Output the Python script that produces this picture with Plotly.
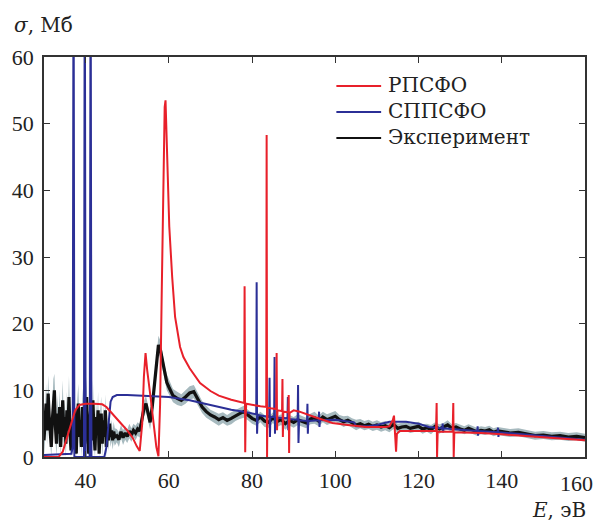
import numpy as np
import plotly.graph_objects as go

# ---------------- data ----------------
exp_x1 = np.arange(30.0, 47.0001, 0.25)   # 69 points
exp_y1 = [2.5, 5.0, 8.0, 4.0, 9.5, 6.0, 3.0, 1.5, 5.5, 8.5,
          10.0, 4.5, 2.0, 6.5, 3.5, 7.5, 1.5, 5.0, 8.5, 3.0,
          6.0, 2.0, 7.0, 4.0, 9.0, 3.5, 1.0, 5.5, 2.5, 7.0,
          4.0, 0.5, 6.0, 8.0, 3.0, 5.5, 1.5, 7.5, 4.5, 2.0,
          6.5, 9.0, 3.0, 0.5, 5.0, 7.5, 2.5, 8.5, 4.0, 1.0,
          6.0, 3.5, 7.0, 0.5, 4.5, 6.5, 2.0, 5.5, 3.0, 7.0,
          1.5, 4.5, 2.5, 5.0, 3.0, 4.0, 2.5, 3.8, 3.0]
exp_e1 = [2.5, 2.0, 3.0, 2.2, 2.8, 2.0, 1.8, 2.4, 2.6, 3.2,
          2.5, 2.0, 2.2, 2.8, 2.4, 2.6, 1.8, 2.2, 3.0, 2.4,
          2.6, 2.0, 2.8, 2.2, 3.2, 2.4, 2.0, 2.6, 2.2, 2.8,
          2.4, 1.8, 2.6, 3.0, 2.2, 2.4, 2.0, 2.8, 2.6, 2.0,
          2.4, 3.0, 2.2, 1.8, 2.6, 2.8, 2.0, 3.0, 2.4, 2.0,
          2.6, 2.2, 2.8, 1.8, 2.4, 2.6, 2.0, 2.2, 1.8, 2.4,
          1.6, 2.0, 1.6, 1.8, 1.5, 1.6, 1.4, 1.5, 1.3]

exp_x2 = np.arange(47.5, 60.0001, 0.5)   # 26 points
exp_y2 = [3.2, 2.6, 3.8, 2.9, 3.6, 3.1, 3.9, 3.3, 4.0, 3.6,
          4.2, 3.9, 5.5, 7.2, 8.0, 6.5, 5.2, 7.5, 11.0, 14.5,
          16.8, 16.0, 14.2, 12.5, 11.2, 10.5]
exp_e2 = [1.0, 1.1, 1.0, 1.1, 1.0, 1.0, 1.1, 1.0, 1.0, 1.1,
          1.0, 1.0, 1.1, 1.2, 1.2, 1.1, 1.1, 1.2, 1.3, 1.4,
          1.4, 1.4, 1.3, 1.2, 1.2, 1.1]

exp_x3 = np.arange(61.0, 140.0001, 1.0)  # 80 points
exp_y3 = [9.2, 8.8, 8.5, 9.0, 9.6, 9.8, 8.6, 7.5, 6.8, 6.3,
          6.0, 5.6, 5.9, 5.5, 5.8, 6.2, 6.5, 6.8, 6.3, 5.8,
          5.5, 6.0, 5.4, 5.2, 5.9, 5.3, 5.6, 5.0, 5.5, 5.2,
          5.6, 5.3, 5.1, 5.7, 5.9, 5.4, 6.0, 5.6, 5.9, 6.1,
          5.6, 5.3, 5.5, 5.1, 4.8, 5.0, 4.7, 4.9, 4.6, 4.8,
          4.5, 4.7, 4.4, 4.9, 4.3, 4.5, 4.6, 4.3, 4.5, 4.6,
          4.2, 4.4, 4.1, 4.6, 4.2, 4.5, 4.8, 4.3, 4.5, 4.2,
          4.0, 4.3, 4.1, 3.8, 4.0, 3.9, 4.1, 3.7, 3.9, 3.8]
exp_e3 = [1.0, 1.0, 0.9, 1.0, 1.0, 1.0, 0.9, 0.9, 0.9, 0.8,
          0.8, 0.9, 0.8, 0.8, 0.9, 0.8, 0.8, 0.9, 0.8, 0.8,
          0.8, 0.8, 0.9, 0.8, 0.8, 0.8, 0.8, 0.9, 0.8, 0.8,
          0.8, 0.8, 0.8, 0.8, 0.9, 0.8, 0.8, 0.8, 0.8, 0.8,
          0.7, 0.8, 0.7, 0.7, 0.8, 0.7, 0.7, 0.7, 0.7, 0.7,
          0.7, 0.7, 0.7, 0.7, 0.7, 0.7, 0.7, 0.7, 0.7, 0.7,
          0.7, 0.6, 0.7, 0.6, 0.7, 0.6, 0.7, 0.6, 0.6, 0.6,
          0.6, 0.6, 0.6, 0.6, 0.6, 0.6, 0.6, 0.6, 0.6, 0.6]

exp_x4 = np.arange(142.0, 160.0001, 2.0)  # 10 points
exp_y4 = [3.6, 3.7, 3.4, 3.2, 3.3, 3.1, 3.2, 3.0, 3.1, 2.9]
exp_e4 = [0.6, 0.6, 0.6, 0.6, 0.6, 0.6, 0.6, 0.6, 0.6, 0.6]

# РПСФО (red)
red_x = [30.0, 33.5, 34.5, 35.5, 36.5, 37.5, 38.5, 40.0, 42.0, 44.0,
         45.0, 46.5, 48.4, 50.0, 51.3, 52.3, 53.0, 53.6, 54.0, 54.4,
         54.8, 55.6, 56.3, 57.0, 57.5, 57.9, 58.3, 58.7, 59.0, 59.2,
         59.6, 60.1, 60.8, 61.5, 62.7, 63.5, 65.0, 67.5, 70.0, 72.0,
         75.0, 78.1, 78.2, 78.35, 78.45, 78.6, 80.0, 82.0, 83.4, 83.5,
         83.6, 83.7, 84.5, 85.8, 85.9, 86.0, 86.1, 87.2, 87.3, 87.4,
         87.5, 88.7, 88.8, 88.9, 89.0, 90.0, 91.4, 95.0, 99.3, 103.0,
         107.4, 112.0, 113.0, 113.8, 114.1, 114.4, 114.6, 114.8, 115.5, 118.0,
         122.0, 124.2, 124.35, 124.45, 124.6, 126.0, 128.2, 128.35, 128.45, 128.6,
         130.0, 135.0, 140.0, 145.0, 150.0, 155.0, 160.0]
red_y = [0.0, 0.0, 0.8, 2.8, 5.0, 7.0, 7.8, 8.0, 8.0, 7.9,
         7.5, 6.5, 5.1, 4.0, 2.9, 1.6, 0.9, 5.0, 12.0, 15.6,
         13.0, 9.0, 5.0, 1.5, 0.1, 8.0, 25.0, 45.0, 52.5, 53.5,
         44.7, 34.6, 27.0, 21.0, 16.5, 15.0, 13.3, 11.1, 9.9, 9.2,
         8.6, 8.1, 25.6, 0.7, 6.0, 8.0, 7.8, 7.6, 7.5, 48.3,
         0.0, 7.4, 7.3, 7.2, 15.6, 4.0, 7.0, 6.9, 11.7, 3.0,
         6.8, 6.7, 9.3, 0.6, 6.6, 7.0, 6.8, 6.0, 5.1, 4.8,
         4.5, 4.5, 4.6, 5.5, 6.2, 3.0, 0.8, 3.5, 3.9, 3.9,
         3.9, 3.9, 8.1, 0.0, 3.8, 3.8, 3.8, 8.1, 0.0, 3.7,
         3.7, 3.6, 3.4, 3.2, 3.0, 2.8, 2.5]

# СППСФО (blue)
blue_x = [30.0, 36.6, 36.9, 37.1, 37.3, 39.6, 39.8, 40.0, 41.0, 41.2,
          41.4, 44.5, 45.0, 45.5, 46.0, 46.5, 47.5, 50.0, 55.0, 60.0,
          65.0, 70.0, 75.0, 78.0, 81.0, 81.1, 81.2, 81.35, 84.1, 84.2,
          84.3, 84.4, 85.3, 85.4, 85.5, 85.6, 88.5, 88.6, 88.7, 88.8,
          90.95, 91.05, 91.15, 91.3, 93.2, 93.3, 93.4, 93.5, 96.0, 96.1,
          96.2, 96.3, 100.0, 103.0, 104.5, 105.0, 108.0, 110.0, 113.0, 117.0,
          120.0, 122.5, 125.7, 125.8, 125.9, 126.0, 130.0, 134.1, 134.2, 134.3,
          134.4, 139.0, 139.1, 139.2, 139.3, 145.0, 150.0, 155.0, 160.0]
blue_y = [0.3, 0.5, 1.5, 80.0, 0.0, 0.0, 80.0, 0.0, 0.0, 80.0,
          0.0, 0.0, 1.5, 5.5, 8.3, 9.0, 9.3, 9.3, 9.2, 9.0,
          8.5, 7.8, 7.1, 6.8, 6.4, 26.2, 3.5, 6.3, 6.0, 11.9,
          3.0, 6.0, 6.0, 15.0, 3.5, 5.9, 5.8, 9.0, 4.0, 5.7,
          5.6, 10.8, 2.1, 5.5, 5.4, 8.0, 3.5, 5.4, 5.5, 6.8,
          4.5, 5.5, 5.6, 5.4, 5.2, 4.6, 4.6, 4.8, 5.3, 5.3,
          5.0, 4.5, 4.3, 5.0, 3.7, 4.3, 4.1, 3.9, 4.6, 3.2,
          3.9, 3.7, 4.4, 3.0, 3.7, 3.4, 3.1, 2.9, 2.6]

x_ticks = [40, 60, 80, 100, 120, 140, 160]
x_tick_labels = ["40", "60", "80", "100", "120", "140", "160"]
y_ticks = [0, 10, 20, 30, 40, 50, 60]
legend_names = ["РПСФО", "СППСФО", "Эксперимент"]

# ---------------- build ----------------
exp_x = np.concatenate([exp_x1, exp_x2, exp_x3, exp_x4])
exp_y = np.array(exp_y1 + exp_y2 + exp_y3 + exp_y4)
exp_e = np.array(exp_e1 + exp_e2 + exp_e3 + exp_e4)
upper = exp_y + exp_e
lower = np.clip(exp_y - exp_e, 0, None)

TICKFONT = "Liberation Serif"
TEXTFONT = "DejaVu Serif"
RED = "#e8202a"
BLUE = "#2b2f96"
BLACK = "#111111"
BAND = "#a7babf"
TXT = "#222222"
TICKSIZE = 22

fig = go.Figure()
fig.add_trace(go.Scatter(x=exp_x, y=lower, mode="lines", line=dict(width=0, color=BAND),
                         showlegend=False, hoverinfo="skip"))
fig.add_trace(go.Scatter(x=exp_x, y=upper, mode="lines", line=dict(width=0, color=BAND),
                         fill="tonexty", fillcolor=BAND, showlegend=False, hoverinfo="skip"))
fig.add_trace(go.Scatter(x=exp_x, y=exp_y, mode="lines", name=legend_names[2],
                         line=dict(color=BLACK, width=3.2), showlegend=False))
fig.add_trace(go.Scatter(x=blue_x, y=blue_y, mode="lines", name=legend_names[1],
                         line=dict(color=BLUE, width=2), showlegend=False))
fig.add_trace(go.Scatter(x=red_x, y=red_y, mode="lines", name=legend_names[0],
                         line=dict(color=RED, width=2), showlegend=False))

axis_common = dict(showline=True, linecolor="#333333", linewidth=1.5, mirror="ticks",
                   ticks="inside", ticklen=6, tickcolor="#333333", tickwidth=1.2,
                   showgrid=False, zeroline=False,
                   tickfont=dict(family=TICKFONT, size=TICKSIZE, color=TXT))

# legend drawn as text + short line samples (paper coordinates)
PLOT_L, PLOT_R, PLOT_T, PLOT_B = 43, 587, 57, 457
def px_x(p):
    return (p - PLOT_L) / (PLOT_R - PLOT_L)
def px_y(p):
    return (PLOT_B - p) / (PLOT_B - PLOT_T)

legend_rows = [85, 111, 137]
legend_colors = [RED, BLUE, BLACK]
shapes = []
annotations = []
for name, col, row in zip(legend_names, legend_colors, legend_rows):
    shapes.append(dict(type="line", xref="paper", yref="paper",
                       x0=px_x(337), x1=px_x(382), y0=px_y(row + 1), y1=px_y(row + 1),
                       line=dict(color=col, width=2)))
    annotations.append(dict(text=name, xref="paper", yref="paper", x=px_x(387), y=px_y(row),
                            xanchor="left", yanchor="middle", showarrow=False,
                            font=dict(family=TEXTFONT, size=20, color=TXT)))

annotations.append(dict(text="<i>σ</i>, Мб", xref="paper", yref="paper", x=px_x(11), y=px_y(25),
                        xanchor="left", yanchor="middle", showarrow=False,
                        font=dict(family=TEXTFONT, size=20, color=TXT)))
annotations.append(dict(text="<i>E</i>, эВ", xref="paper", yref="paper", x=px_x(590), y=px_y(510),
                        xanchor="right", yanchor="middle", showarrow=False,
                        font=dict(family=TEXTFONT, size=20, color=TXT)))
# last x tick label pulled inside the figure edge, as in the reference
annotations.append(dict(text=x_tick_labels[-1], xref="paper", yref="paper", x=px_x(597),
                        y=px_y(483), xanchor="right", yanchor="middle", showarrow=False,
                        font=dict(family=TICKFONT, size=TICKSIZE, color=TXT)))

fig.update_layout(
    width=599, height=521,
    margin=dict(l=43, r=12, t=57, b=64),
    paper_bgcolor="white", plot_bgcolor="white",
    font=dict(family=TICKFONT, size=20, color=TXT),
    xaxis=dict(range=[30, 160], tickvals=x_ticks, ticktext=x_tick_labels[:-1] + [""],
               ticklabelstandoff=3, **axis_common),
    yaxis=dict(range=[0, 60], tickvals=y_ticks, ticklabelstandoff=4, **axis_common),
    shapes=shapes,
    annotations=annotations,
    showlegend=False,
)

fig.write_html("out.html")
